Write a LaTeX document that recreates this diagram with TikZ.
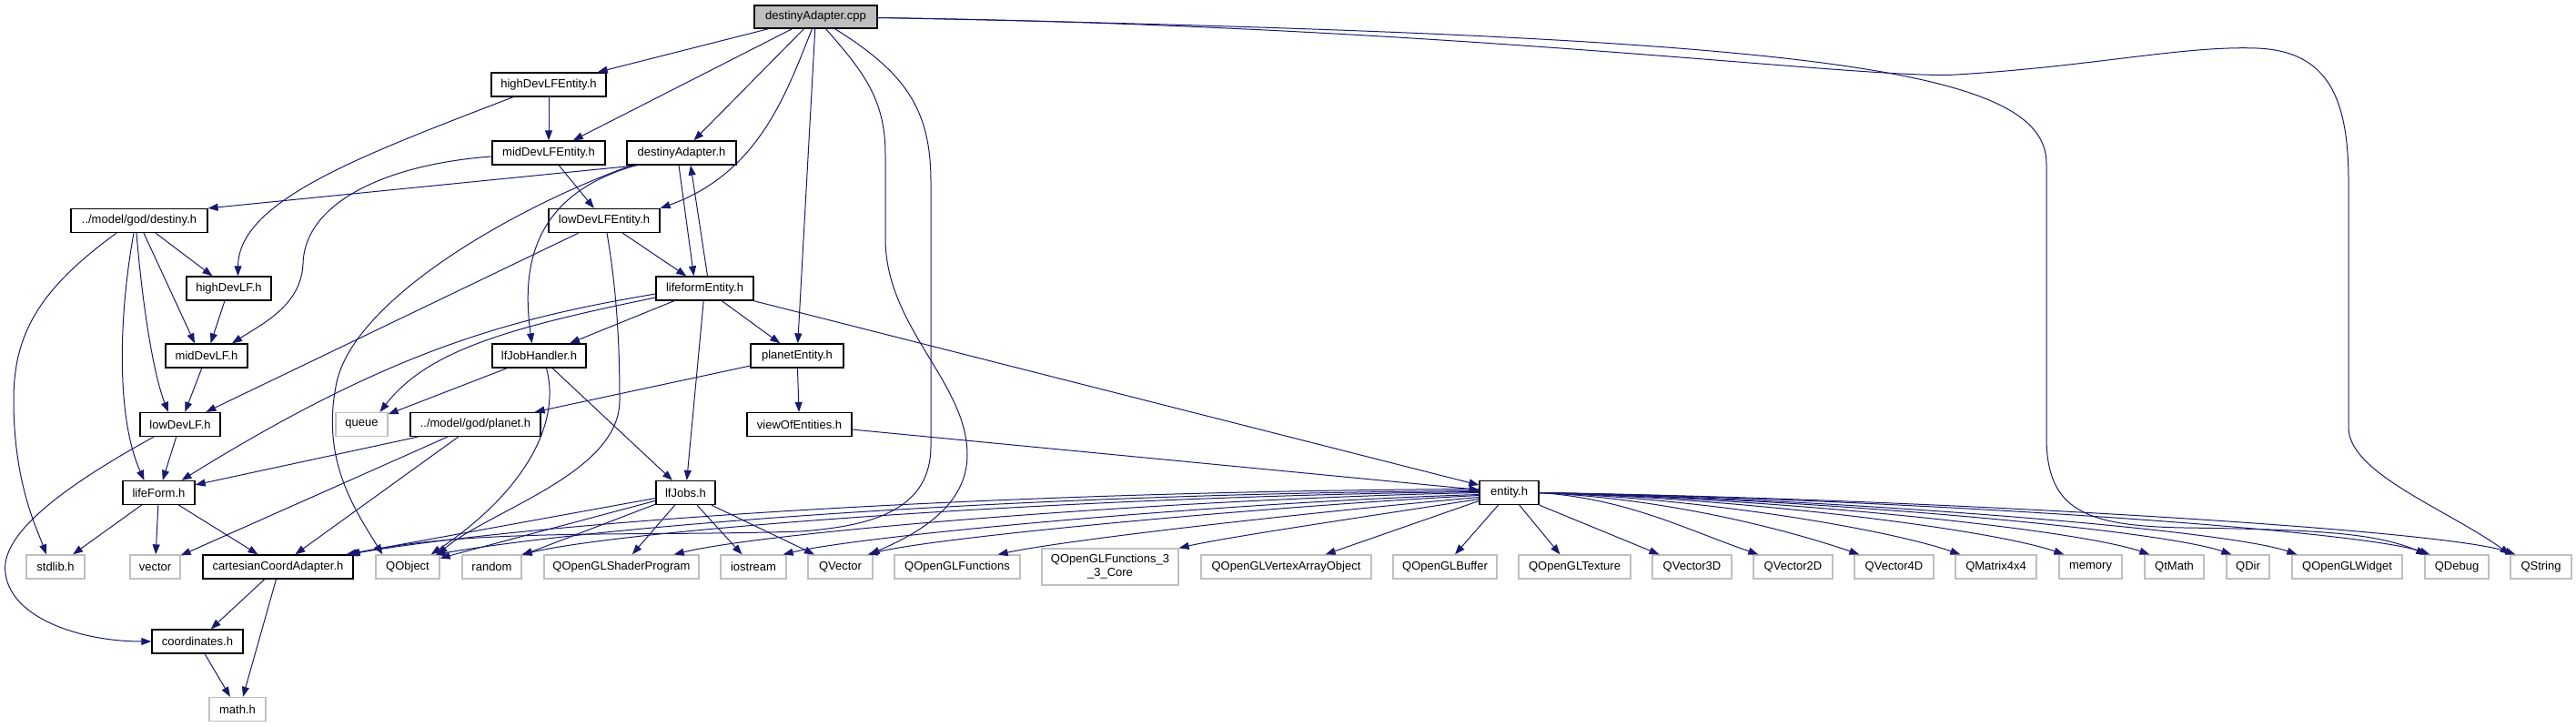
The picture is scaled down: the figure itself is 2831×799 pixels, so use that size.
\documentclass[tikz,border=0pt]{standalone}
\usepackage{fontspec}
\setmainfont{Liberation Sans}
\usetikzlibrary{arrows.meta}
\definecolor{edgeblue}{HTML}{191970}
\definecolor{rootgray}{HTML}{BFBFBF}
\definecolor{extgray}{HTML}{BFBFBF}

\begin{document}
\begin{tikzpicture}[x=1pt,y=-1pt,
  box/.style={rectangle,inner sep=0pt,minimum height=26pt,fill=white,font=\fontsize{13}{15}\selectfont},
  hfile/.style={box,draw=black,line width=1.3pt},
  sysfile/.style={box,draw=extgray,line width=1.3pt},
  rootfile/.style={hfile,fill=rootgray},
  dep/.style={draw=edgeblue,line width=1pt,-{Triangle[length=11pt,width=8pt]}}]
 \useasboundingbox (0,0) rectangle (2831,799);
 % include files of the project
 \node[rootfile,minimum width=135pt,minimum height=25pt] (cpp) at (896.5,18.5) {destinyAdapter.cpp};
 \node[hfile,minimum width=126pt] (hdlfe) at (603,93) {highDevLFEntity.h};
 \node[hfile,minimum width=124pt] (mdlfe) at (603,168) {midDevLFEntity.h};
 \node[hfile,minimum width=120pt] (dah) at (749,168) {destinyAdapter.h};
 \node[hfile,minimum width=150pt] (destiny) at (153,242.5) {../model/god/destiny.h};
 \node[hfile,minimum width=122pt] (ldlfe) at (664,242.5) {lowDevLFEntity.h};
 \node[hfile,minimum width=93pt] (hdlf) at (251.5,317) {highDevLF.h};
 \node[hfile,minimum width=107pt] (lfe) at (774.5,317) {lifeformEntity.h};
 \node[hfile,minimum width=90pt] (mdlf) at (227,391) {midDevLF.h};
 \node[hfile,minimum width=103pt] (ljh) at (592.5,391) {lfJobHandler.h};
 \node[hfile,minimum width=102pt] (pe) at (876,391) {planetEntity.h};
 \node[hfile,minimum width=88pt] (ldlf) at (198,466.5) {lowDevLF.h};
 \node[sysfile,minimum width=57pt] (queue) at (397.5,466.5) {queue};
 \node[hfile,minimum width=143pt] (planet) at (522.5,466.5) {../model/god/planet.h};
 \node[hfile,minimum width=115pt] (voe) at (878.5,466.5) {viewOfEntities.h};
 \node[hfile,minimum width=79pt] (lf) at (174.5,541.5) {lifeForm.h};
 \node[hfile,minimum width=65pt] (lfj) at (753.5,541.5) {lfJobs.h};
 \node[hfile,minimum width=65pt] (ent) at (1658.5,541.5) {entity.h};
 \node[hfile,minimum width=100pt] (coords) at (217,705) {coordinates.h};
 \node[sysfile,minimum width=62pt] (math) at (261,779.5) {math.h};
 % bottom row
 \node[sysfile,minimum width=64pt] (stdlib) at (61,623) {stdlib.h};
 \node[sysfile,minimum width=55pt] (vector) at (170.5,623) {vector};
 \node[hfile,minimum width=165pt] (cca) at (305.5,623) {cartesianCoordAdapter.h};
 \node[sysfile,minimum width=70pt] (qobject) at (448,623) {QObject};
 \node[sysfile,minimum width=65pt] (random) at (540.5,623) {random};
 \node[sysfile,minimum width=170pt] (shader) at (683,623) {QOpenGLShaderProgram};
 \node[sysfile,minimum width=72pt] (iostream) at (828,623) {iostream};
 \node[sysfile,minimum width=71pt] (qvector) at (923.5,623) {QVector};
 \node[sysfile,minimum width=138pt] (glfunc) at (1052,623) {QOpenGLFunctions};
 \node[sysfile,minimum width=150pt,minimum height=40pt,align=center] (glcore) at (1220,623) {QOpenGLFunctions\_3\\\_3\_Core};
 \node[sysfile,minimum width=187pt] (vao) at (1413.5,623) {QOpenGLVertexArrayObject};
 \node[sysfile,minimum width=114pt] (glbuffer) at (1588,623) {QOpenGLBuffer};
 \node[sysfile,minimum width=123pt] (gltexture) at (1730.5,623) {QOpenGLTexture};
 \node[sysfile,minimum width=87pt] (vecthree) at (1859.5,623) {QVector3D};
 \node[sysfile,minimum width=87pt] (vectwo) at (1970.5,623) {QVector2D};
 \node[sysfile,minimum width=87pt] (vecfour) at (2081.5,623) {QVector4D};
 \node[sysfile,minimum width=89pt] (matrix) at (2193.5,623) {QMatrix4x4};
 \node[sysfile,minimum width=69pt] (memory) at (2297.5,623) {memory};
 \node[sysfile,minimum width=65pt] (qtmath) at (2389.5,623) {QtMath};
 \node[sysfile,minimum width=47pt] (qdir) at (2470.5,623) {QDir};
 \node[sysfile,minimum width=121pt] (glwidget) at (2579.5,623) {QOpenGLWidget};
 \node[sysfile,minimum width=70pt] (qdebug) at (2700,623) {QDebug};
 \node[sysfile,minimum width=67pt] (qstring) at (2792.5,623) {QString};

 % destinyAdapter.cpp
 \draw[dep] (cpp) -- (hdlfe);
 \draw[dep] (cpp) -- (mdlfe);
 \draw[dep] (cpp) -- (dah);
 \draw[dep] ([xshift=-4pt]cpp.south) .. controls (865,100) and (835,190) .. (ldlfe.north east);
 \draw[dep] (cpp) -- (pe);
 \draw[dep] ([xshift=11pt]cpp.south) .. controls (950,80) and (973,110) .. (973,170) -- (973,262) .. controls (973,360) and (1063,420) .. (1063,500) .. controls (1063,560) and (1000,590) .. ([xshift=-4pt]qvector.north east);
 \draw[dep] ([xshift=21pt]cpp.south) .. controls (995,80) and (1023,120) .. (1023,200) -- (1023,490) .. controls (1023,560) and (960,578) .. (880,584) .. controls (700,590) and (520,580) .. ([xshift=-4pt]cca.north east);
 \draw[dep] ([yshift=-1pt]cpp.east) .. controls (2000,40) and (2249,75) .. (2249,180) -- (2249,480) .. controls (2249,560) and (2290,578) .. (2400,580) .. controls (2540,582) and (2610,585) .. ([xshift=2pt]qdebug.north west);
 \draw[dep] ([yshift=-1pt]cpp.east) .. controls (1600,28) and (2050,88) .. (2150,82) .. controls (2300,73) and (2400,50) .. (2480,53) .. controls (2560,56) and (2581,110) .. (2581,200) -- (2581,470) .. controls (2581,520) and (2690,560) .. (qstring.north west);

 % high/mid/low level entities
 \draw[dep] (hdlfe) -- (mdlfe);
 \draw[dep] ([xshift=-39pt]hdlfe.south) .. controls (400,170) and (262,220) .. ([xshift=10pt]hdlf.north);
 \draw[dep] (mdlfe) -- (ldlfe);
 \draw[dep] ([yshift=-4pt]mdlfe.west) .. controls (430,180) and (335,220) .. (333,290) .. controls (331,335) and (290,355) .. ([xshift=28pt]mdlf.north);
 \draw[dep] ([xshift=13pt]dah.south west) -- (destiny.north east);
 \draw[dep] ([xshift=-3pt]dah.south) -- ([xshift=-12pt]lfe.north);
 \draw[dep] ([xshift=11pt]dah.south west) .. controls (580,215) and (574,300) .. ([xshift=-8pt]ljh.north);
 \draw[dep] ([xshift=6pt]dah.south west) .. controls (560,230) and (390,330) .. (370,420) .. controls (352,505) and (390,560) .. ([xshift=8pt]qobject.north west);
 \draw[dep] (ldlfe) -- (lfe);
 \draw[dep] (ldlfe) -- (ldlf);
 \draw[dep] ([xshift=3pt]ldlfe.south) .. controls (678,320) and (681,380) .. (681,440) .. controls (681,520) and (540,560) .. ([xshift=-3pt]qobject.north east);

 % ../model/god/destiny.h
 \draw[dep] (destiny) -- (hdlf);
 \draw[dep] ([xshift=5pt]destiny.south) -- ([xshift=-13pt]mdlf.north);
 \draw[dep] ([xshift=-3pt]destiny.south) .. controls (156,330) and (168,410) .. ([xshift=-13pt]ldlf.north);
 \draw[dep] ([xshift=-6pt]destiny.south) .. controls (130,350) and (128,460) .. ([xshift=-16pt]lf.north);
 \draw[dep] ([xshift=-25pt]destiny.south) .. controls (40,320) and (15,370) .. (15,440) .. controls (15,530) and (40,580) .. ([xshift=-10pt]stdlib.north);
 \draw[dep] (hdlf) -- (mdlf);
 \draw[dep] (mdlf) -- (ldlf);
 \draw[dep] (ldlf) -- (lf);
 \draw[dep] ([xshift=-29pt]ldlf.south) .. controls (60,540) and (0,590) .. (6,630) .. controls (12,680) and (90,705) .. (coords.west);

 % lifeformEntity.h
 \draw[dep] ([xshift=3pt]lfe.north) -- ([xshift=10pt]dah.south);
 \draw[dep] (lfe) -- (ljh);
 \draw[dep] (lfe) -- (pe);
 \draw[dep] (lfe) -- (ent);
 \draw[dep] (lfe) -- (lfj);
 \draw[dep] ([yshift=-6pt]lfe.west) .. controls (560,350) and (430,385) .. ([xshift=25pt]lf.north);
 \draw[dep] ([yshift=-10pt]lfe.west) .. controls (560,360) and (470,385) .. ([xshift=20pt]queue.north);
 \draw[dep] (ljh) -- (queue);
 \draw[dep] (ljh) -- (lfj);
 \draw[dep] ([xshift=8pt]ljh.south) .. controls (618,470) and (570,545) .. ([xshift=-10pt]qobject.north east);
 \draw[dep] (pe) -- (voe);
 \draw[dep] (pe) -- ([xshift=-7pt]planet.north east);
 \draw[dep] (voe) -- (ent);
 \draw[dep] (planet) -- (lf);
 \draw[dep] (planet) -- (vector);
 \draw[dep] (planet) -- (cca);
 \draw[dep] (lf) -- (stdlib);
 \draw[dep] (lf) -- (vector);
 \draw[dep] (lf) -- (cca);
 \foreach \t in {cca,qobject,random,shader,iostream,qvector}
   \draw[dep] (lfj) -- (\t);
 \draw[dep] (cca) -- (coords);
 \draw[dep] ([xshift=-2pt]cca.south) -- ([xshift=6pt]math.north);
 \draw[dep] (coords) -- (math);

 % entity.h
 \draw[dep] ([yshift=4pt]ent.west) .. controls (1100,540) and (600,572) .. ([xshift=-6pt]cca.north east);
 \draw[dep] ([yshift=2pt]ent.west) .. controls (1150,542) and (680,575) .. ([xshift=-5pt]qobject.north east);
 \draw[dep] ([yshift=1pt]ent.west) .. controls (1200,545) and (700,580) .. (random.north east);
 \draw[dep] (ent.west) .. controls (1300,548) and (850,583) .. ([xshift=-28pt]shader.north east);
 \draw[dep] ([yshift=-2pt]ent.west) .. controls (1350,552) and (950,588) .. ([xshift=-4pt]iostream.north east);
 \draw[dep] ([yshift=-3pt]ent.west) .. controls (1400,556) and (1030,590) .. ([xshift=-6pt]qvector.north east);
 \draw[dep] ([yshift=-5pt]ent.west) .. controls (1450,562) and (1180,592) .. ([xshift=-25pt]glfunc.north east);
 \draw[dep] ([yshift=-7pt]ent.west) .. controls (1500,568) and (1350,590) .. (glcore.north east);
 \draw[dep] ([yshift=-9pt]ent.west) -- ([xshift=-51pt]vao.north east);
 \draw[dep] (ent) -- ([xshift=11pt]glbuffer.north);
 \draw[dep] (ent) -- ([xshift=-16pt]gltexture.north);
 \draw[dep] (ent) -- ([xshift=-36pt]vecthree.north);
 \foreach \t/\a/\b in {vectwo/1788/1853,vecfour/1832/1964,matrix/1877/2075,memory/1922/2189,qtmath/1960/2283,qdir/1996/2373,glwidget/2025/2445,qdebug/2083/2591,qstring/2121/2685}
   \draw[dep] (ent.east) .. controls (\a,548) and (\b,582) .. ([xshift=6pt]\t.north west);
\end{tikzpicture}
\end{document}
